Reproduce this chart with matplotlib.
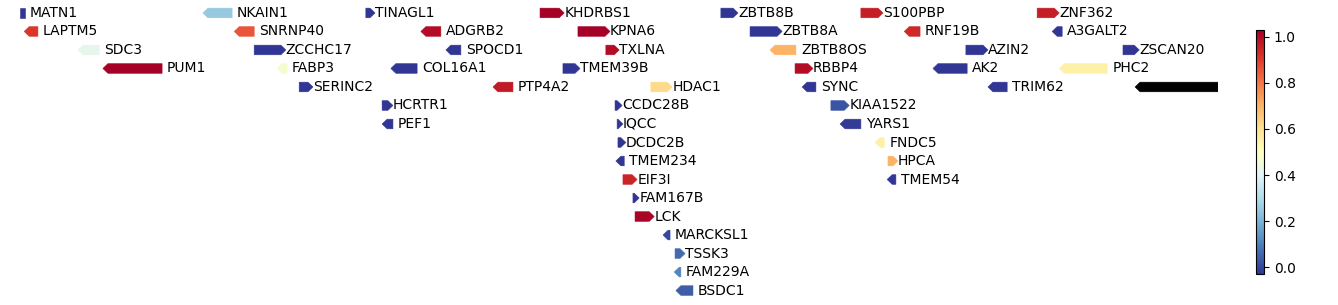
import numpy as np
import matplotlib
matplotlib.use("Agg")
import matplotlib.pyplot as plt
from matplotlib.patches import Polygon
from matplotlib.colors import Normalize
from matplotlib.cm import ScalarMappable

# gene track, chr1 region (kb)
genes = [
    "MATN1", "NKAIN1", "TINAGL1", "KHDRBS1", "ZBTB8B", "S100PBP", "ZNF362",
    "LAPTM5", "SNRNP40", "ADGRB2", "KPNA6", "ZBTB8A", "RNF19B", "A3GALT2",
    "SDC3", "ZCCHC17", "SPOCD1", "TXLNA", "ZBTB8OS", "AZIN2", "ZSCAN20",
    "PUM1", "FABP3", "COL16A1", "TMEM39B", "RBBP4", "AK2", "PHC2",
    "SERINC2", "PTP4A2", "HDAC1", "SYNC", "TRIM62", "CSMD2",
    "HCRTR1", "CCDC28B", "KIAA1522",
    "PEF1", "IQCC", "YARS1",
    "DCDC2B", "FNDC5",
    "TMEM234", "HPCA",
    "EIF3I", "TMEM54",
    "FAM167B",
    "LCK",
    "MARCKSL1",
    "TSSK3",
    "FAM229A",
    "BSDC1",
]
starts = [
    30710, 31149, 31540, 31958, 32392, 32728, 33151,
    30720, 31224, 31672, 32049, 32462, 32832, 33187,
    30849, 31272, 31732, 32116, 32510, 32980, 33357,
    30909, 31327, 31600, 32013, 32570, 32901, 33204,
    31380, 31845, 32224, 32587, 33033, 33386,
    31579, 32138, 32656,
    31579, 32143, 32678,
    32145, 32762,
    32140, 32793,
    32157, 32791,
    32181,
    32186,
    32253,
    32282,
    32280,
    32284,
]
ends = [
    30722, 31219, 31562, 32016, 32433, 32781, 33204,
    30753, 31272, 31720, 32126, 32539, 32870, 33211,
    30900, 31348, 31768, 32148, 32572, 33033, 33396,
    31051, 31351, 31663, 32054, 32613, 32983, 33319,
    31413, 31893, 32275, 32620, 33079, 34000,
    31605, 32155, 32700,
    31605, 32157, 32728,
    32164, 32784,
    32160, 32817,
    32191, 32812,
    32196,
    32232,
    32270,
    32306,
    32296,
    32325,
]
strands = [
    0, -1, 1, 1, 1, 1, 1,
    -1, -1, -1, 1, 1, -1, -1,
    -1, 1, -1, 1, -1, 1, 1,
    -1, -1, -1, 1, 1, -1, -1,
    1, -1, 1, -1, -1, -1,
    1, 1, 1,
    -1, 1, -1,
    1, -1,
    -1, 1,
    1, -1,
    1,
    1,
    -1,
    1,
    -1,
    -1,
]
rows = [
    0, 0, 0, 0, 0, 0, 0,
    1, 1, 1, 1, 1, 1, 1,
    2, 2, 2, 2, 2, 2, 2,
    3, 3, 3, 3, 3, 3, 3,
    4, 4, 4, 4, 4, 4,
    5, 5, 5,
    6, 6, 6,
    7, 7,
    8, 8,
    9, 9,
    10,
    11,
    12,
    13,
    14,
    15,
]
scores = [
    -0.03, 0.25, -0.03, 1.03, -0.03, 0.96, 0.96,
    0.91, 0.86, 1.0, 1.03, -0.03, 0.94, -0.03,
    0.42, -0.03, -0.03, 1.0, 0.7, -0.03, -0.03,
    1.03, 0.47, -0.03, -0.03, 1.0, -0.03, 0.55,
    -0.03, 0.97, 0.62, -0.03, -0.03, np.nan,
    -0.03, -0.03, 0.02,
    -0.03, -0.03, -0.02,
    -0.03, 0.55,
    -0.03, 0.7,
    0.95, -0.03,
    -0.03,
    1.02,
    0.0,
    0.06,
    0.11,
    0.04,
]

view = (30710, 33585)

fig = plt.figure(figsize=(13.38, 3.05), dpi=100)
ax = fig.add_axes([20 / 1338, 0, 1198 / 1338, 1])
cax = fig.add_axes([1256 / 1338, 31 / 305, 8 / 1338, 244 / 305])

cmap = plt.get_cmap("RdYlBu_r")
norm = Normalize(vmin=-0.03, vmax=1.03)

kb_per_px = (view[1] - view[0]) / 1198
head_len = 5 * kb_per_px
half_h = 0.26

for name, s, e, st, r, v in zip(genes, starts, ends, strands, rows, scores):
    color = "black" if np.isnan(v) else cmap(norm(v))
    head = min(head_len, (e - s))
    if st == 1:
        pts = [(s, r - half_h), (e - head, r - half_h), (e, r),
               (e - head, r + half_h), (s, r + half_h)]
    elif st == -1:
        pts = [(e, r - half_h), (s + head, r - half_h), (s, r),
               (s + head, r + half_h), (e, r + half_h)]
    else:
        pts = [(s, r - half_h), (e, r - half_h), (e, r + half_h), (s, r + half_h)]
    ax.add_patch(Polygon(pts, closed=True, facecolor=color, edgecolor=color,
                         linewidth=0.4, joinstyle="miter"))
    pad = 0 if st == 1 else 5
    ax.annotate(name, xy=(e, r), xytext=(pad, 0), textcoords="offset pixels",
                ha="left", va="center", fontsize=10, color="black",
                annotation_clip=True, clip_on=True)

ax.set_xlim(*view)
ax.set_ylim(15.78, -0.70)
ax.axis("off")

sm = ScalarMappable(norm=norm, cmap=cmap)
cb = fig.colorbar(sm, cax=cax)
cb.set_ticks([0.0, 0.2, 0.4, 0.6, 0.8, 1.0])
cb.outline.set_linewidth(0.8)

fig.savefig("out.png", dpi=100)
